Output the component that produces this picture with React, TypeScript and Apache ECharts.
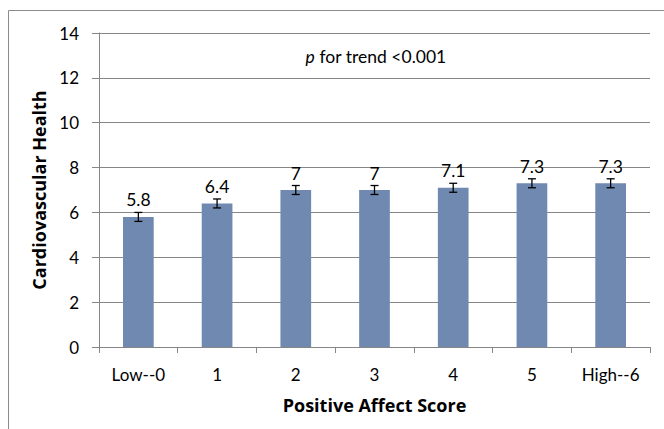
import React, { useEffect, useRef } from "react";
import * as echarts from "echarts";

const categories = ["Low--0", "1", "2", "3", "4", "5", "High--6"];
const values = [5.8, 6.4, 7, 7, 7.1, 7.3, 7.3];
const errLow = [5.6, 6.2, 6.8, 6.8, 6.9, 7.1, 7.1];
const errHigh = [6.0, 6.6, 7.2, 7.2, 7.3, 7.5, 7.5];
const yTicks = { min: 0, max: 14, interval: 2 };

const FONT = "Lato, 'Open Sans', sans-serif";
const TITLE_FONT = "'Open Sans', Lato, sans-serif";

export default function App() {
  const ref = useRef<HTMLDivElement>(null);
  useEffect(() => {
    if (!ref.current) return;
    const chart = echarts.init(ref.current, undefined, { renderer: "svg" });
    chart.setOption({
      animation: false,
      backgroundColor: "#ffffff",
      textStyle: { fontFamily: FONT },
      grid: { left: 99, right: 14, top: 33, bottom: 82 },
      graphic: [
        {
          type: "rect",
          shape: { x: 8.5, y: 10.5, width: 700, height: 500 },
          style: { fill: "none", stroke: "#8c8c8c", lineWidth: 1 },
          silent: true,
        },
        {
          type: "text",
          x: 376,
          y: 56,
          style: {
            rich: {
              i: { fontStyle: "italic", fontSize: 17.5, fontFamily: FONT, fill: "#000" },
              n: { fontSize: 17.5, fontFamily: FONT, fill: "#000" },
            },
            text: "{i|p}{n| for trend <0.001}",
            align: "center",
            verticalAlign: "middle",
          },
        },
      ],
      xAxis: {
        type: "category",
        data: categories,
        name: "Positive Affect Score",
        nameLocation: "middle",
        nameGap: 49,
        nameTextStyle: { fontSize: 18, fontWeight: "bold", color: "#000", fontFamily: TITLE_FONT },
        axisLine: { lineStyle: { color: "#868686" } },
        axisTick: { show: true, length: 6, alignWithLabel: false, lineStyle: { color: "#868686" } },
        axisLabel: { fontSize: 17, color: "#000", margin: 19, fontFamily: FONT },
      },
      yAxis: {
        type: "value",
        min: yTicks.min,
        max: yTicks.max,
        interval: yTicks.interval,
        name: "Cardiovascular Health",
        nameLocation: "middle",
        nameGap: 44,
        nameTextStyle: { fontSize: 18, fontWeight: "bold", color: "#000", fontFamily: TITLE_FONT },
        axisLine: { show: true, lineStyle: { color: "#868686" } },
        axisTick: { show: true, length: 7, lineStyle: { color: "#868686" } },
        axisLabel: { fontSize: 17, color: "#000", margin: 20, fontFamily: FONT },
        splitLine: { show: true, lineStyle: { color: "#868686" } },
      },
      series: [
        {
          type: "bar",
          data: values,
          barWidth: "39%",
          itemStyle: { color: "#7089b0" },
          label: {
            show: true,
            position: "top",
            distance: 8,
            fontSize: 17.5,
            color: "#000",
            fontFamily: FONT,
          },
          z: 2,
        },
        {
          type: "custom",
          data: categories.map((_, i) => [i, errLow[i], errHigh[i]]),
          z: 3,
          renderItem: (params: any, api: any) => {
            const x = api.value(0);
            const lo = api.coord([x, api.value(1)]);
            const hi = api.coord([x, api.value(2)]);
            const hw = 4;
            const st = { stroke: "#000", lineWidth: 1.3 };
            return {
              type: "group",
              children: [
                { type: "line", shape: { x1: lo[0], y1: lo[1], x2: hi[0], y2: hi[1] }, style: st },
                { type: "line", shape: { x1: lo[0] - hw, y1: lo[1], x2: lo[0] + hw, y2: lo[1] }, style: st },
                { type: "line", shape: { x1: hi[0] - hw, y1: hi[1], x2: hi[0] + hw, y2: hi[1] }, style: st },
              ],
            };
          },
        },
      ],
    });
    return () => chart.dispose();
  }, []);
  return <div ref={ref} style={{ width: 664, height: 429, position: "absolute", left: 0, top: 0 }} />;
}
